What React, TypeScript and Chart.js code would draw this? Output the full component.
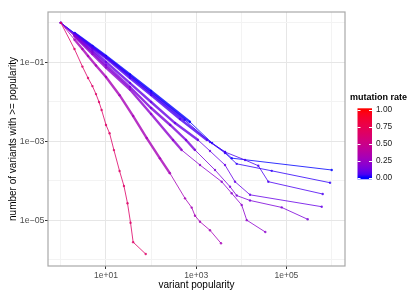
import React, { useEffect, useRef } from "react";
import { Chart, registerables } from "chart.js";
Chart.register(...registerables);

// ---- data ----
const mutationRates = [0.65, 0.3, 0.2, 0.15, 0.1, 0.05, 0.02, 0.0];

const popularityA = [1, 2, 3, 4, 5, 6, 7, 8, 10, 12, 15, 20, 25, 30, 35, 40, 76];
const shareA = [1, 0.217, 0.078, 0.04, 0.025, 0.0157, 0.0099, 0.0062, 0.0026, 0.0016, 6.0e-4, 1.77e-4, 7.4e-5, 2.7e-5, 8.7e-6, 2.8e-6, 1.4e-6];

const popularityB = [1, 2, 3, 4, 6, 10, 20, 40, 80, 157, 262, 565, 795, 940, 1213, 2022, 3548];
const shareB = [1, 0.378, 0.217, 0.144, 0.083, 0.0425, 0.0147, 0.00437, 0.00121, 3.71e-4, 1.55e-4, 3.6e-5, 2.1e-5, 1.31e-5, 9.2e-6, 5.6e-6, 2.62e-6];

const popularityC = [1, 2, 5, 10, 34, 100, 306, 477, 1213, 3675, 6120, 10200, 13200, 34000];
const shareC = [1, 0.463, 0.162, 0.0738, 0.0205, 0.00491, 0.00108, 6.0e-4, 2.51e-4, 9.5e-5, 4.83e-5, 2.44e-5, 1.01e-5, 5.06e-6];

const popularityD = [1, 2, 5, 10, 34, 100, 265, 594, 940, 2612, 5620, 7910, 15600, 78700, 296000];
const shareD = [1, 0.477, 0.182, 0.0855, 0.0237, 0.00697, 0.00259, 0.00108, 6.03e-4, 1.88e-4, 7.1e-5, 4.24e-5, 3.18e-5, 2.12e-5, 1.06e-5];

const popularityE = [1, 2, 5, 10, 34, 100, 339, 1097, 2023, 4352, 7250, 15600, 607000];
const shareE = [1, 0.491, 0.205, 0.102, 0.0299, 0.0099, 0.0029, 0.00108, 5.68e-4, 2.51e-4, 9.5e-5, 4.42e-5, 2.21e-5];

const popularityF = [1, 2, 5, 10, 34, 100, 438, 1735, 4352, 12080, 23800, 39700, 638000];
const shareF = [1, 0.52, 0.23, 0.1285, 0.04, 0.01486, 0.00367, 0.00108, 5.36e-4, 3.37e-4, 2.41e-4, 9.5e-5, 4.63e-5];

const popularityG = [1, 2, 5, 10, 34, 100, 558, 2023, 4352, 7900, 47200, 927000];
const shareG = [1, 0.536, 0.244, 0.136, 0.045, 0.0167, 0.00346, 9.6e-4, 5.06e-4, 2.69e-4, 1.79e-4, 8.95e-5];

const popularityH = [1, 2, 5, 10, 34, 100, 729, 2244, 4352, 6120, 1010000];
const shareH = [1, 0.552, 0.259, 0.144, 0.0491, 0.0188, 0.00308, 9.06e-4, 5.36e-4, 3.75e-4, 1.88e-4];

const seriesPopularity = [popularityA, popularityB, popularityC, popularityD, popularityE, popularityF, popularityG, popularityH];
const seriesShare = [shareA, shareB, shareC, shareD, shareE, shareF, shareG, shareH];

const xTickValues = [1, 10, 100, 1000, 10000, 100000, 1000000];
const xLabelledTicks = [10, 1000, 100000];
const yTickValues = [1, 0.1, 0.01, 0.001, 0.0001, 0.00001, 0.000001];
const yLabelledTicks = [0.1, 0.001, 0.00001];
const legendBreaks = [0, 0.25, 0.5, 0.75, 1];
const legendLabels = ["0.00", "0.25", "0.50", "0.75", "1.00"];

// ---- styling ----
const denseUntil = [0, 400, 700, 1000, 1500, 2000, 2000, 2000];
const FONT = "'Liberation Sans', Arial, Helvetica, sans-serif";

function toLin(c: number) {
  c /= 255;
  return c <= 0.04045 ? c / 12.92 : Math.pow((c + 0.055) / 1.055, 2.4);
}
function toSrgb(c: number) {
  c = c <= 0.0031308 ? 12.92 * c : 1.055 * Math.pow(Math.max(c, 0), 1 / 2.4) - 0.055;
  return Math.round(Math.max(0, Math.min(1, c)) * 255);
}
const Xn = 0.95047, Yn = 1, Zn = 1.08883;
function rgb2lab(r: number, g: number, b: number) {
  const R = toLin(r), G = toLin(g), B = toLin(b);
  const X = (0.4124 * R + 0.3576 * G + 0.1805 * B) / Xn;
  const Y = (0.2126 * R + 0.7152 * G + 0.0722 * B) / Yn;
  const Z = (0.0193 * R + 0.1192 * G + 0.9505 * B) / Zn;
  const f = (t: number) => (t > 0.008856 ? Math.cbrt(t) : 7.787 * t + 16 / 116);
  const fx = f(X), fy = f(Y), fz = f(Z);
  return [116 * fy - 16, 500 * (fx - fy), 200 * (fy - fz)];
}
function lab2rgb(L: number, a: number, b: number) {
  const fy = (L + 16) / 116, fx = fy + a / 500, fz = fy - b / 200;
  const fi = (t: number) => (t > 0.206893 ? t * t * t : (t - 16 / 116) / 7.787);
  const X = fi(fx) * Xn, Y = fi(fy) * Yn, Z = fi(fz) * Zn;
  const R = 3.2406 * X - 1.5372 * Y - 0.4986 * Z;
  const G = -0.9689 * X + 1.8758 * Y + 0.0415 * Z;
  const B = 0.0557 * X - 0.204 * Y + 1.057 * Z;
  return [toSrgb(R), toSrgb(G), toSrgb(B)];
}
const LOW = rgb2lab(0, 0, 255);
const HIGH = rgb2lab(255, 0, 0);
function rateColor(t: number, alpha = 1) {
  const l = [0, 1, 2].map((i) => LOW[i] + (HIGH[i] - LOW[i]) * t);
  const [r, g, b] = lab2rgb(l[0], l[1], l[2]);
  return `rgba(${r},${g},${b},${alpha})`;
}

function sciLabel(v: number) {
  const e = Math.round(Math.log10(v));
  return "1e" + (e < 0 ? "\u2212" : "+") + String(Math.abs(e)).padStart(2, "0");
}

const decorations = {
  id: "decorations",
  afterDatasetsDraw(chart: any) {
    const { ctx, chartArea } = chart;
    const { left, top, right, bottom } = chartArea;
    ctx.save();
    ctx.strokeStyle = "#a9a9a9";
    ctx.lineWidth = 1.2;
    ctx.strokeRect(left, top, right - left, bottom - top);
    ctx.restore();
  },
  afterDraw(chart: any) {
    const ctx = chart.ctx as CanvasRenderingContext2D;
    ctx.save();
    ctx.fillStyle = "#000";
    ctx.font = `bold 9px ${FONT}`;
    ctx.textAlign = "left";
    ctx.textBaseline = "middle";
    ctx.fillText("mutation rate", 350, 98);
    const bx = 357.5, bw = 14.5, bTop = 108.3, bBot = 179.3;
    const yAt = (v: number) => 177.7 - v * 67.7;
    const grad = ctx.createLinearGradient(0, yAt(0), 0, yAt(1));
    for (let i = 0; i <= 20; i++) grad.addColorStop(i / 20, rateColor(i / 20));
    ctx.fillStyle = grad;
    ctx.fillRect(bx, bTop, bw, bBot - bTop);
    ctx.strokeStyle = "#ffffff";
    ctx.lineWidth = 1;
    legendBreaks.forEach((v) => {
      const y = Math.round(yAt(v)) + 0.5;
      ctx.beginPath();
      ctx.moveTo(bx, y);
      ctx.lineTo(bx + 3, y);
      ctx.moveTo(bx + bw - 3, y);
      ctx.lineTo(bx + bw, y);
      ctx.stroke();
    });
    ctx.fillStyle = "#1a1a1a";
    ctx.font = `8.3px ${FONT}`;
    legendBreaks.forEach((v, i) => {
      ctx.fillText(legendLabels[i], 376, yAt(v));
    });
    ctx.restore();
  },
};

export default function App() {
  const ref = useRef<HTMLCanvasElement>(null);
  useEffect(() => {
    const datasets = seriesPopularity.map((pop, i) => {
      const color = rateColor(mutationRates[i], 0.8);
      return {
        label: String(mutationRates[i]),
        data: pop.map((x, j) => ({ x, y: seriesShare[i][j] })),
        showLine: true,
        borderColor: color,
        backgroundColor: color,
        borderWidth: 1,
        pointRadius: 1.2,
        pointBorderWidth: 0,
        pointBackgroundColor: color,
        pointHoverRadius: 0,
        segment: {
          borderWidth: (c: any) =>
            c.p0.parsed.x >= 2 && c.p1.parsed.x <= denseUntil[i] ? 2.4 : 1,
        },
      };
    });
    const gridColor = (majors: number[]) => (c: any) =>
      c.tick && majors.includes(c.tick.value) ? "#e6e6e6" : "#f3f3f3";
    const tickColor = (majors: number[]) => (c: any) =>
      c.tick && majors.includes(c.tick.value) ? "#333333" : "rgba(0,0,0,0)";
    const chart = new Chart(ref.current as HTMLCanvasElement, {
      type: "scatter",
      data: { datasets } as any,
      plugins: [decorations],
      options: {
        animation: false,
        responsive: false,
        devicePixelRatio: 1,
        layout: { padding: { left: 0, right: 70, top: 12, bottom: 0 } },
        plugins: { legend: { display: false }, tooltip: { enabled: false } },
        scales: {
          x: {
            type: "logarithmic",
            min: 0.518,
            max: 1.99e6,
            afterBuildTicks: (s: any) => {
              s.ticks = xTickValues.map((value) => ({ value }));
            },
            afterFit: (s: any) => {
              s.height = 31;
            },
            border: { display: false },
            grid: {
              color: gridColor(xLabelledTicks),
              tickColor: tickColor(xLabelledTicks),
              tickLength: 3,
              lineWidth: 1,
            },
            ticks: {
              autoSkip: false,
              maxRotation: 0,
              padding: 1.5,
              color: "#4d4d4d",
              font: { family: FONT, size: 8.5 },
              callback: (v: any) => (xLabelledTicks.includes(Number(v)) ? sciLabel(Number(v)) : ""),
            },
            title: {
              display: true,
              text: "variant popularity",
              color: "#000",
              font: { family: FONT, size: 10 },
              padding: { top: 0, bottom: 6 },
            },
          },
          y: {
            type: "logarithmic",
            min: 6.97e-7,
            max: 1.88,
            afterBuildTicks: (s: any) => {
              s.ticks = yTickValues.map((value) => ({ value }));
            },
            afterFit: (s: any) => {
              s.width = 48;
            },
            border: { display: false },
            grid: {
              color: gridColor(yLabelledTicks),
              tickColor: tickColor(yLabelledTicks),
              tickLength: 3,
              lineWidth: 1,
            },
            ticks: {
              autoSkip: false,
              padding: 0.5,
              color: "#4d4d4d",
              font: { family: FONT, size: 8.8 },
              callback: (v: any) => (yLabelledTicks.includes(Number(v)) ? sciLabel(Number(v)) : ""),
            },
            title: {
              display: true,
              text: "number of variants with >= popularity",
              color: "#000",
              font: { family: FONT, size: 10 },
              padding: { top: 7.5, bottom: 0 },
            },
          },
        },
      } as any,
    });
    return () => chart.destroy();
  }, []);
  return (
    <div style={{ position: "fixed", left: 0, top: 0, width: 415, height: 297, background: "#fff" }}>
      <canvas ref={ref} width={415} height={297} style={{ width: 415, height: 297, display: "block" }} />
    </div>
  );
}
